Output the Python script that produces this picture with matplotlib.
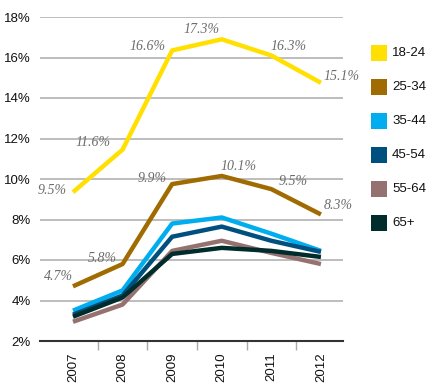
import matplotlib
matplotlib.use('Agg')
import matplotlib.pyplot as plt
from matplotlib.patches import Rectangle

# Data
years = ['2007', '2008', '2009', '2010', '2011', '2012']
groups = ['18-24', '25-34', '35-44', '45-54', '55-64', '65+']
rate_18_24 = [9.35, 11.45, 16.35, 16.9, 16.1, 14.75]
rate_25_34 = [4.7, 5.8, 9.75, 10.15, 9.5, 8.25]
rate_35_44 = [3.5, 4.5, 7.8, 8.1, 7.3, 6.45]
rate_45_54 = [3.3, 4.25, 7.15, 7.65, 6.95, 6.4]
rate_55_64 = [2.95, 3.8, 6.45, 6.95, 6.35, 5.8]
rate_65_plus = [3.2, 4.15, 6.3, 6.6, 6.45, 6.15]
labels_18_24 = ['9.5%', '11.6%', '16.6%', '17.3%', '16.3%', '15.1%']
labels_25_34 = ['4.7%', '5.8%', '9.9%', '10.1%', '9.5%', '8.3%']
yticks = [2, 4, 6, 8, 10, 12, 14, 16, 18]

colors = ['#ffe000', '#a06b00', '#00aeef', '#00507f', '#957270', '#002c2c']
series = [rate_18_24, rate_25_34, rate_35_44, rate_45_54, rate_55_64, rate_65_plus]

fig = plt.figure(figsize=(4.36, 3.88), dpi=100)
ax = fig.add_axes([40 / 436, 1 - 341 / 388, 303 / 436, 324 / 388])

x = list(range(len(years)))

# grid lines
for v in yticks[1:]:
    ax.axhline(v, color='#ababab', lw=1.1, zorder=1)

for vals, col in zip(series, colors):
    ax.plot(x, vals, color=col, lw=3.2, solid_joinstyle='round', solid_capstyle='butt', zorder=3)

# data labels (offsets in pixels from the point)
off_18 = [(-21, 2), (-30, 7), (-25, 4), (-20, 10), (17, 9), (21, 6)]
off_25 = [(-15, 10), (-20, 6), (-20, 6), (17, 9), (22, 8), (17, 9)]
for vals, labs, offs in [(rate_18_24, labels_18_24, off_18), (rate_25_34, labels_25_34, off_25)]:
    for xi, v, lab, o in zip(x, vals, labs, offs):
        ax.annotate(lab, (xi, v), xytext=o, textcoords='offset pixels', ha='center', va='center',
                    fontsize=10, fontstyle='italic', family='Liberation Serif', color='#6c6c6c', zorder=4)

ax.set_xlim(-0.665, 5.445)
ax.set_ylim(2, 18)
ax.set_yticks(yticks)
ax.set_yticklabels([f'{v}%' for v in yticks], family='Liberation Sans', fontsize=9.5, color='#111111')
ax.tick_params(axis='y', length=0, pad=6.5)
ax.set_xticks(x)
ax.set_xticklabels(years, rotation=90, family='Liberation Sans', fontsize=9.5, color='#111111')
ax.tick_params(axis='x', which='major', length=0, pad=8)
ax.set_xticks([i + 0.5 for i in x[:-1]], minor=True)
ax.tick_params(axis='x', which='minor', length=6.5, width=1.0, color='#aaaaaa', direction='out')

for s in ['top', 'right', 'left']:
    ax.spines[s].set_visible(False)
ax.spines['bottom'].set_color('#333333')
ax.spines['bottom'].set_linewidth(1.5)
ax.spines['bottom'].set_zorder(5)

# legend drawn by hand
W, H = 436, 388
for i, (g, col) in enumerate(zip(groups, colors)):
    yc = 53 + i * 34
    fig.patches.append(Rectangle((371 / W, 1 - (yc + 8) / H), 16 / W, 16 / H,
                                 transform=fig.transFigure, facecolor=col, edgecolor='none'))
    fig.text(392 / W, 1 - yc / H, g, ha='left', va='center', family='Liberation Sans',
             fontsize=9.5, color='#111111')

fig.savefig('out.png', dpi=100)
